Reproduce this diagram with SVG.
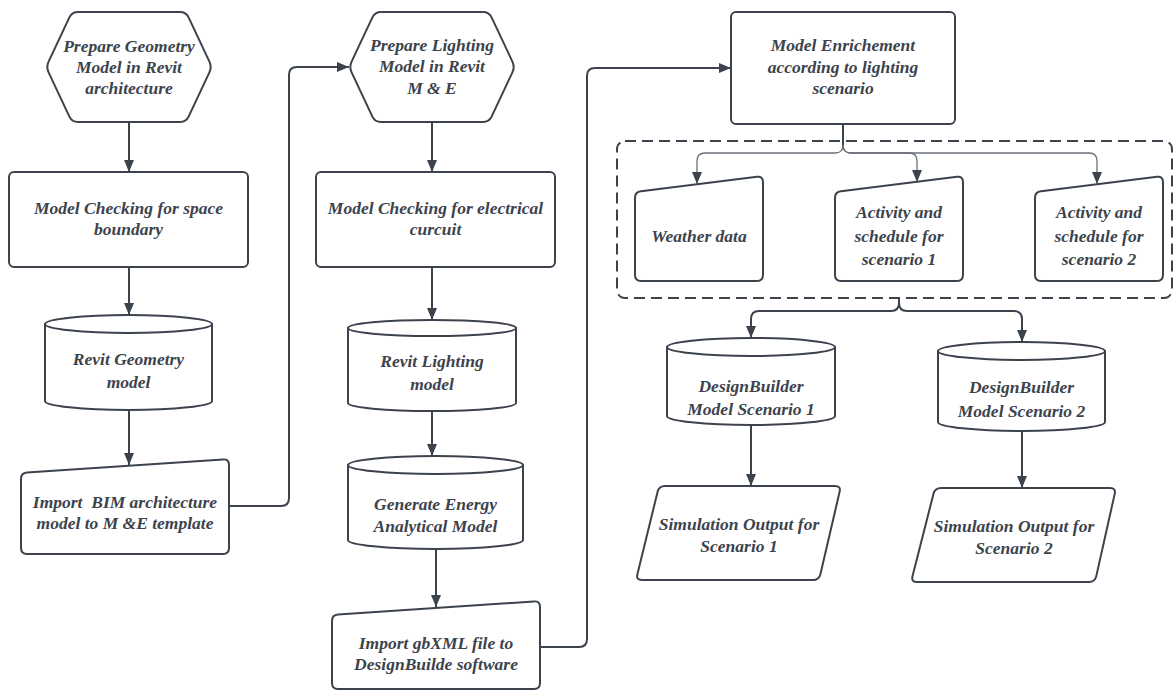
<svg xmlns="http://www.w3.org/2000/svg" width="1176" height="692" viewBox="0 0 1176 692">
<defs>
<style>
.n{fill:#fff;stroke:#3c434d;stroke-width:2;stroke-linejoin:round}
.t{font-family:"Liberation Serif","Times New Roman",serif;font-size:17.5px;font-weight:bold;font-style:italic;fill:#3c434d;text-anchor:middle}
.c{fill:none;stroke:#3c434d;stroke-width:2}
.b{fill:none;stroke:#6b7079;stroke-width:1.3}
.d{fill:none;stroke:#3c434d;stroke-width:2;stroke-dasharray:11 6}
</style>
<marker id="ah" markerUnits="userSpaceOnUse" markerWidth="12" markerHeight="10" refX="12" refY="5" orient="auto">
<path d="M0,0 L12,5 L0,10 Z" fill="#3c434d"/>
</marker>
</defs>
<rect width="1176" height="692" fill="#fff"/>

<g id="connectors">
<path class="c" d="M129,122 L129,172" marker-end="url(#ah)"/>
<path class="c" d="M129,267 L129,315" marker-end="url(#ah)"/>
<path class="c" d="M129,410 L129,465" marker-end="url(#ah)"/>
<path class="c" d="M229,506 L281,506 Q289,506 289,498 L289,75 Q289,67 297,67 L349,67" marker-end="url(#ah)"/>
<path class="c" d="M432,122 L432,172" marker-end="url(#ah)"/>
<path class="c" d="M432,267 L432,320" marker-end="url(#ah)"/>
<path class="c" d="M432,411 L432,456" marker-end="url(#ah)"/>
<path class="c" d="M436,549 L436,607" marker-end="url(#ah)"/>
<path class="c" d="M540,647 L579,647 Q587,647 587,639 L587,76 Q587,68 595,68 L731,68" marker-end="url(#ah)"/>
<path class="c" d="M843,124 L843,146"/>
<path class="b" d="M843,145 Q843,153 835,153 L705,153 Q697,153 697,161 L697,184" marker-end="url(#ah)"/>
<path class="b" d="M843,145 Q843,153 851,153 L909,153 Q917,153 917,161 L917,182" marker-end="url(#ah)"/>
<path class="b" d="M843,145 Q843,153 851,153 L1089,153 Q1097,153 1097,161 L1097,184" marker-end="url(#ah)"/>
<path class="c" d="M899,298 L899,303 Q899,311 891,311 L759,311 Q751,311 751,319 L751,338" marker-end="url(#ah)"/>
<path class="c" d="M899,298 L899,303 Q899,311 907,311 L1014,311 Q1022,311 1022,319 L1022,342" marker-end="url(#ah)"/>
<path class="c" d="M751,425 L751,486" marker-end="url(#ah)"/>
<path class="c" d="M1022,431 L1022,488" marker-end="url(#ah)"/>
</g>

<g id="hex1">
<path class="n" d="M48.6,61.6 L69.4,17.4 Q72,12 78,12 L180,12 Q186,12 188.6,17.4 L209.4,61.6 Q212,67 209.4,72.4 L188.6,116.6 Q186,122 180,122 L78,122 Q72,122 69.4,116.6 L48.6,72.4 Q46,67 48.6,61.6 Z"/>
<text class="t" x="129" y="52">Prepare Geometry</text>
<text class="t" x="129" y="73">Model in Revit</text>
<text class="t" x="129" y="94">architecture</text>
</g>

<g id="rect1">
<rect class="n" x="9" y="172" width="239" height="95" rx="5"/>
<text class="t" x="128.5" y="214">Model Checking for space</text>
<text class="t" x="128.5" y="235">boundary</text>
</g>

<g id="cyl1">
<path class="n" d="M45,324 L45,401 A83.5,9 0 0 0 212,401 L212,324 Z"/>
<ellipse class="n" cx="128.5" cy="324" rx="83.5" ry="9"/>
<text class="t" x="128.5" y="365">Revit Geometry</text>
<text class="t" x="128.5" y="388">model</text>
</g>

<g id="mi1">
<path class="n" d="M21,479 Q21,473 27,472.6 L223,459.4 Q229,459 229,465 L229,548 Q229,554 223,554 L27,554 Q21,554 21,548 Z"/>
<text class="t" x="125" y="508" xml:space="preserve">Import  BIM architecture</text>
<text class="t" x="125" y="529">model to M &amp;E template</text>
</g>

<g id="hex2">
<path class="n" d="M351.6,61.6 L372.4,17.4 Q375,12 381,12 L483,12 Q489,12 491.6,17.4 L512.4,61.6 Q515,67 512.4,72.4 L491.6,116.6 Q489,122 483,122 L381,122 Q375,122 372.4,116.6 L351.6,72.4 Q349,67 351.6,61.6 Z"/>
<text class="t" x="432" y="51">Prepare Lighting</text>
<text class="t" x="432" y="72">Model in Revit</text>
<text class="t" x="432" y="94">M &amp; E</text>
</g>

<g id="rect2">
<rect class="n" x="316" y="172" width="239" height="95" rx="5"/>
<text class="t" x="435.5" y="214">Model Checking for electrical</text>
<text class="t" x="435.5" y="235">curcuit</text>
</g>

<g id="cyl2">
<path class="n" d="M348,328 L348,403 A84,8 0 0 0 516,403 L516,328 Z"/>
<ellipse class="n" cx="432" cy="328" rx="84" ry="8"/>
<text class="t" x="432" y="367">Revit Lighting</text>
<text class="t" x="432" y="390">model</text>
</g>

<g id="cyl3">
<path class="n" d="M348,465 L348,540 A87.5,9 0 0 0 523,540 L523,465 Z"/>
<ellipse class="n" cx="435.5" cy="465" rx="87.5" ry="9"/>
<text class="t" x="435.5" y="510">Generate Energy</text>
<text class="t" x="435.5" y="532">Analytical Model</text>
</g>

<g id="mi2">
<path class="n" d="M332,621 Q332,615 338,614.6 L534,601.4 Q540,601 540,607 L540,683 Q540,689 534,689 L338,689 Q332,689 332,683 Z"/>
<text class="t" x="436" y="649">Import gbXML file to</text>
<text class="t" x="436" y="670">DesignBuilde software</text>
</g>

<g id="rect3">
<rect class="n" x="731" y="12" width="224" height="112" rx="5"/>
<text class="t" x="843" y="51">Model Enrichement</text>
<text class="t" x="843" y="73">according to lighting</text>
<text class="t" x="843" y="94">scenario</text>
</g>

<g id="group">
<rect class="d" x="617" y="141" width="555" height="157" rx="8"/>
</g>

<g id="weather">
<path class="n" d="M635,198 Q635,192 641,191.3 L757,176.7 Q763,176 763,182 L763,275 Q763,281 757,281 L641,281 Q635,281 635,275 Z"/>
<text class="t" x="699" y="242">Weather data</text>
</g>

<g id="act1">
<path class="n" d="M835,198 Q835,192 841,191.3 L957,176.7 Q963,176 963,182 L963,275 Q963,281 957,281 L841,281 Q835,281 835,275 Z"/>
<text class="t" x="899" y="218">Activity and</text>
<text class="t" x="899" y="242">schedule for</text>
<text class="t" x="899" y="265">scenario 1</text>
</g>

<g id="act2">
<path class="n" d="M1035,198 Q1035,192 1041,191.3 L1157,176.7 Q1163,176 1163,182 L1163,275 Q1163,281 1157,281 L1041,281 Q1035,281 1035,275 Z"/>
<text class="t" x="1099" y="218">Activity and</text>
<text class="t" x="1099" y="242">schedule for</text>
<text class="t" x="1099" y="265">scenario 2</text>
</g>

<g id="db1">
<path class="n" d="M667,347 L667,416 A84,9 0 0 0 835,416 L835,347 Z"/>
<ellipse class="n" cx="751" cy="347" rx="84" ry="9"/>
<text class="t" x="751" y="392">DesignBuilder</text>
<text class="t" x="751" y="415">Model Scenario 1</text>
</g>

<g id="db2">
<path class="n" d="M938,351 L938,422 A83.5,9 0 0 0 1105,422 L1105,351 Z"/>
<ellipse class="n" cx="1021.5" cy="351" rx="83.5" ry="9"/>
<text class="t" x="1021.5" y="393">DesignBuilder</text>
<text class="t" x="1021.5" y="417">Model Scenario 2</text>
</g>

<g id="out1">
<path class="n" d="M665,486 L835,486 Q841,486 839.6,491.8 L820.4,574.2 Q819,580 813,580 L642,580 Q636,580 637.4,574.2 L657.6,491.8 Q659,486 665,486 Z"/>
<text class="t" x="739" y="530">Simulation Output for</text>
<text class="t" x="739" y="552">Scenario 1</text>
</g>

<g id="out2">
<path class="n" d="M941,488 L1110,488 Q1116,488 1114.7,493.9 L1096.3,576.1 Q1095,582 1089,582 L917,582 Q911,582 912.5,576.2 L933.5,493.8 Q935,488 941,488 Z"/>
<text class="t" x="1014" y="532">Simulation Output for</text>
<text class="t" x="1014" y="554">Scenario 2</text>
</g>
</svg>
